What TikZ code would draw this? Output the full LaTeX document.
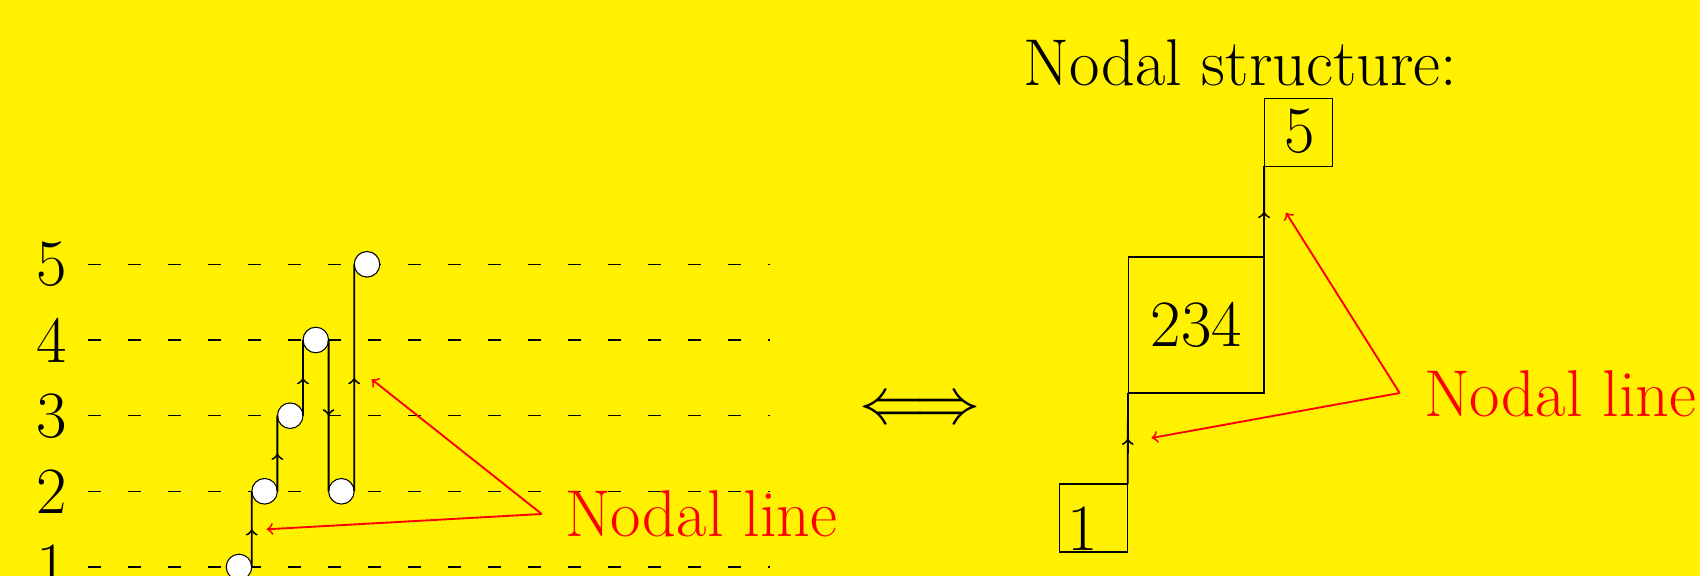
\documentclass[tikz,border=0pt]{standalone}
\usetikzlibrary{decorations.markings}
\definecolor{bgyellow}{RGB}{255,241,0}
\begin{document}
\begin{tikzpicture}[x=0.013210cm,y=-0.013210cm,
  txt/.style={font=\Huge, inner sep=0pt, outer sep=0pt},
  ball/.style={circle, draw=black, fill=white, thin, minimum size=0.338cm, inner sep=0pt, outer sep=0pt},
  levelline/.style={thin, dash pattern=on 4.77pt off 10.27pt},
  midarrow/.style={line width=0.7pt, postaction={decorate}, decoration={markings, mark=at position 0.5 with {\arrow{>}}}},
  redarrow/.style={red, line width=0.7pt, ->},
  boxnode/.style={draw, thin, inner sep=0pt, outer sep=0pt},
]
\fill[bgyellow] (0,0) rectangle (1700,576);
\useasboundingbox (0,0) rectangle (1700,576);

% levels
\foreach \n/\y in {1/567,2/491.3,3/415.7,4/340,5/264.3}{
  \node[txt] (lab\n) at (52,\y) {\n};
  \draw[levelline] (88,\y) -- (769.5,\y);
}

% balls
\node[ball] (c1) at (239,567) {};
\node[ball] (c2) at (264.6,491.3) {};
\node[ball] (c3) at (290.2,415.7) {};
\node[ball] (c4) at (315.8,340) {};
\node[ball] (c5) at (341.4,491.3) {};
\node[ball] (c6) at (367,264.3) {};

\draw[midarrow] (c1.east) -- (c2.west);
\draw[midarrow] (c2.east) -- (c3.west);
\draw[midarrow] (c3.east) -- (c4.west);
\draw[midarrow] (c4.east) -- (c5.west);
\draw[midarrow] (c5.east) -- (c6.west);

% left label
\node[txt, text=red, anchor=base west] (nlL) at (565,536.7) {Nodal line};
\coordinate (pL) at (541.7,514);
\coordinate (tL1) at (266.7,529.3);
\coordinate (tL2) at (371.7,379.3);
\draw[redarrow] (pL) -- (tL1);
\draw[redarrow] (pL) -- (tL2);

% equivalence
\node[txt] (equiv) at (919.7,411.3) {$\Longleftrightarrow$};

% right side
\node[txt, anchor=base west] (title) at (1023.3,86) {Nodal structure:};
\node[boxnode, minimum width=0.8983cm, minimum height=0.8983cm] (b1) at (1093.7,518) {};
\node[txt, anchor=base] (t1) at (1082.5,550.7) {1};
\node[boxnode, minimum width=1.7966cm, minimum height=1.7966cm] (b234) at (1196,325) {};
\node[txt, anchor=base] (t234) at (1196.4,346.7) {234};
\node[boxnode, minimum width=0.9cm, minimum height=0.9cm] (b5) at (1298.2,132.2) {};
\node[txt, anchor=base] (t5) at (1300,152.7) {5};

\draw[midarrow] (b1.north east) -- (b234.south west);
\draw[midarrow] (b234.north east) -- (b5.south west);

\node[txt, text=red, anchor=base west] (nlR) at (1424,416.7) {Nodal line};
\coordinate (pR) at (1399.6,393);
\coordinate (tR1) at (1151.5,438);
\coordinate (tR2) at (1286,212.7);
\draw[redarrow] (pR) -- (tR1);
\draw[redarrow] (pR) -- (tR2);
\end{tikzpicture}
\end{document}
